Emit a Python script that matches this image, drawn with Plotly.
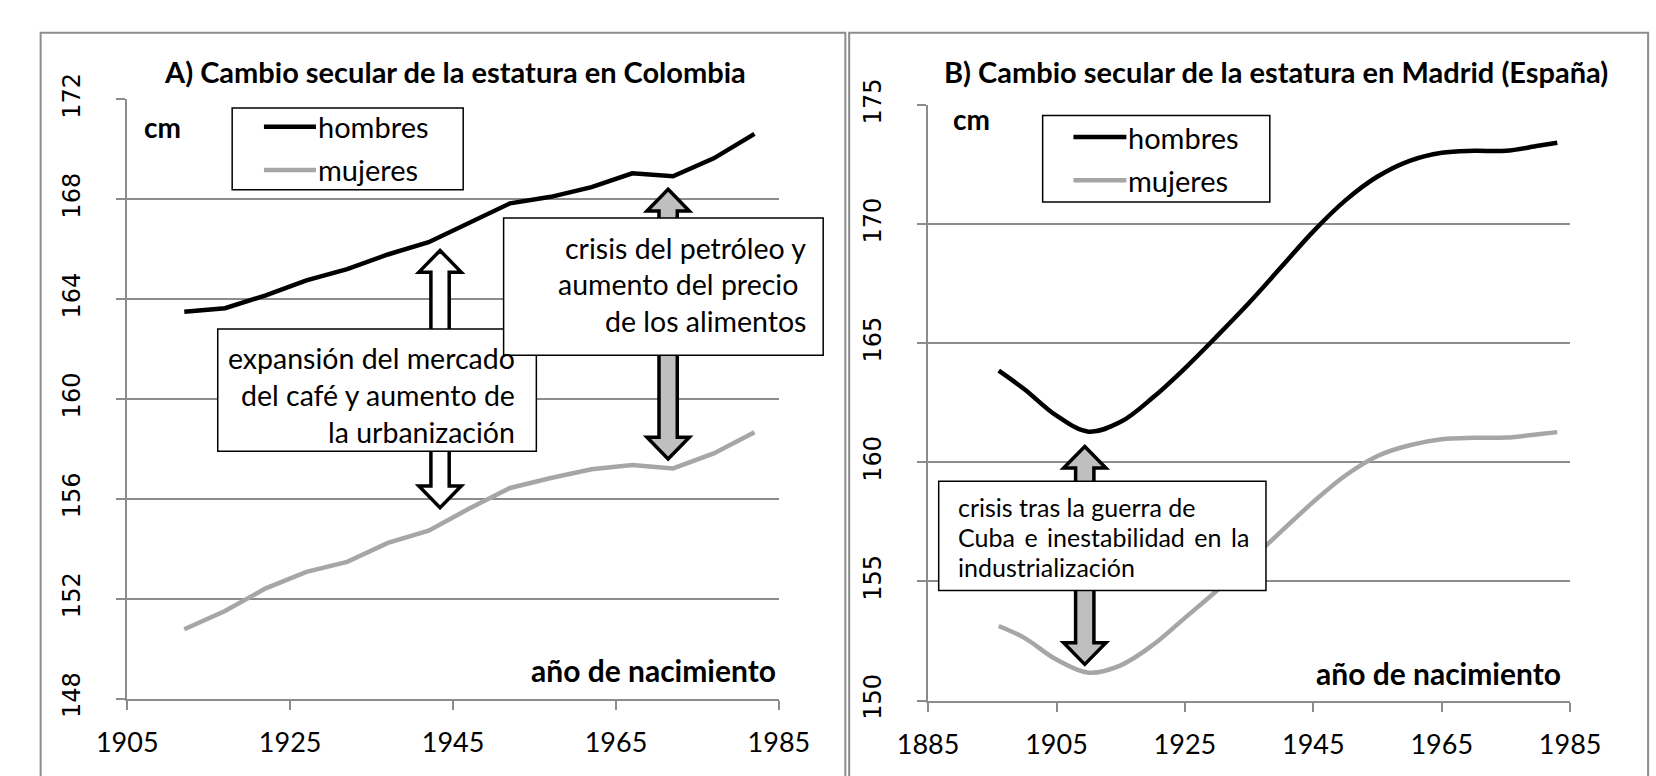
import plotly.graph_objects as go

W, H = 1656, 776

# ---- A) Colombia: estatura media por año de nacimiento (cm)
anios_col = [1912, 1917, 1922, 1927, 1932, 1937, 1942, 1947, 1952, 1957, 1962, 1967, 1972, 1977, 1982]
hombres_col = [163.50, 163.64, 164.15, 164.75, 165.20, 165.79, 166.28, 167.08, 167.84, 168.10,
               168.49, 169.04, 168.92, 169.64, 170.62]
mujeres_col = [150.78, 151.51, 152.42, 153.08, 153.48, 154.24, 154.73, 155.62, 156.44, 156.84,
               157.19, 157.36, 157.22, 157.82, 158.67]

# ---- B) Madrid: estatura media por año de nacimiento (cm)
anios_mad = [1896, 1900, 1905, 1910, 1915, 1920, 1925, 1930, 1935, 1940, 1945, 1950, 1955,
             1960, 1965, 1970, 1975, 1980, 1983]
hombres_mad = [163.85, 163.07, 161.96, 161.29, 161.70, 162.72, 163.95, 165.30, 166.70, 168.20,
               169.70, 171.00, 172.00, 172.66, 173.00, 173.08, 173.08, 173.29, 173.42]
mujeres_mad = [153.13, 152.63, 151.72, 151.17, 151.48, 152.33, 153.47, 154.62, 155.85, 157.10,
               158.34, 159.45, 160.27, 160.72, 160.97, 161.03, 161.04, 161.18, 161.27]

ticks_x_col = [1905, 1925, 1945, 1965, 1985]
ticks_y_col = [148, 152, 156, 160, 164, 168, 172]
ticks_x_mad = [1885, 1905, 1925, 1945, 1965, 1985]
ticks_y_mad = [150, 155, 160, 165, 170, 175]

series_names = ["hombres", "mujeres"]

BLACK = "#000000"
GREY_LINE = "#A6A6A6"
GRID = "#8C8C8C"
ARROW_GREY = "#BFBFBF"
FONT = "Lato"
NUM_FONT = "DejaVu Sans"

# plot areas in pixels: (left, right, top, bottom)
AREA_A = (100, 777, 77, 714)
AREA_B = (932, 1599, 83, 716)
RANGE_A = ((1905, 1985), (148, 172))
RANGE_B = ((1885, 1985), (150, 175))


def px(x):
    return x / W


def py(y):
    return 1 - y / H


def axis_pair(area, rng, xticks, yticks):
    l, r, t, b = area
    common = dict(showline=True, linecolor=GRID, linewidth=2, ticks="outside", ticklen=9,
                  tickwidth=2, tickcolor=GRID, zeroline=False, fixedrange=True)
    xa = dict(common, domain=[px(l), px(r)], range=list(rng[0]), tickvals=xticks,
              showgrid=False, tickfont=dict(family=FONT, size=27, color=BLACK),
              ticklabelstandoff=10)
    ya = dict(common, domain=[py(b), py(t)], range=list(rng[1]), tickvals=yticks,
              showgrid=True, gridcolor=GRID, gridwidth=2, tickangle=-90,
              tickfont=dict(family=NUM_FONT, size=24, color=BLACK), ticklabelstandoff=27)
    return xa, ya


fig = go.Figure()

# ---- data lines
fig.add_trace(go.Scatter(x=anios_col, y=hombres_col, name=series_names[0], mode="lines",
                         line=dict(color=BLACK, width=4.5), xaxis="x", yaxis="y", showlegend=False))
fig.add_trace(go.Scatter(x=anios_col, y=mujeres_col, name=series_names[1], mode="lines",
                         line=dict(color=GREY_LINE, width=4.5), xaxis="x", yaxis="y", showlegend=False))
fig.add_trace(go.Scatter(x=anios_mad, y=hombres_mad, name=series_names[0], mode="lines",
                         line=dict(color=BLACK, width=4.5, shape="spline", smoothing=1.0),
                         xaxis="x2", yaxis="y2", showlegend=False))
fig.add_trace(go.Scatter(x=anios_mad, y=mujeres_mad, name=series_names[1], mode="lines",
                         line=dict(color=GREY_LINE, width=4.5, shape="spline", smoothing=1.0),
                         xaxis="x2", yaxis="y2", showlegend=False))

xa, ya = axis_pair(AREA_A, RANGE_A, ticks_x_col, ticks_y_col)
xb, yb = axis_pair(AREA_B, RANGE_B, ticks_x_mad, ticks_y_mad)
xa["anchor"] = "y"
ya["anchor"] = "x"
xb["anchor"] = "y2"
yb["anchor"] = "x2"

shapes = []
annotations = []

# chart area frames
for x0, x1 in ((10, 846), (850, 1680)):
    shapes.append(dict(type="rect", xref="paper", yref="paper", x0=px(x0), x1=px(x1),
                       y0=py(800), y1=py(6), line=dict(color=GRID, width=2),
                       fillcolor="rgba(0,0,0,0)", layer="below"))


def block_arrow(area, rng, xref, yref, cx, y_top, y_bot, fill):
    """Double-headed block arrow between two heights, sized in pixels."""
    l, r, t, b = area
    kx = (r - l) / (rng[0][1] - rng[0][0])
    ky = (b - t) / (rng[1][1] - rng[1][0])
    hw, sw, hh = 22 / kx, 9.5 / kx, 23 / ky
    pts = [(cx, y_top), (cx + hw, y_top - hh), (cx + sw, y_top - hh), (cx + sw, y_bot + hh),
           (cx + hw, y_bot + hh), (cx, y_bot), (cx - hw, y_bot + hh), (cx - sw, y_bot + hh),
           (cx - sw, y_top - hh), (cx - hw, y_top - hh)]
    path = "M " + " L ".join(f"{x},{y}" for x, y in pts) + " Z"
    return dict(type="path", xref=xref, yref=yref, path=path, fillcolor=fill,
                line=dict(color=BLACK, width=3.5), layer="above")


def box(x0, x1, y0, y1):
    return dict(type="rect", xref="paper", yref="paper", x0=px(x0), x1=px(x1),
                y0=py(y1), y1=py(y0), fillcolor="white", line=dict(color=BLACK, width=1.5),
                layer="above")


def text(x, y, s, size, anchor="left", bold=False):
    return dict(xref="paper", yref="paper", x=px(x), y=py(y), text=f"<b>{s}</b>" if bold else s,
                showarrow=False, xanchor=anchor, yanchor="middle", borderpad=0,
                font=dict(family=FONT, size=size, color=BLACK))


# arrows first, boxes over them
shapes.append(block_arrow(AREA_A, RANGE_A, "x", "y", 1943.4, 165.95, 155.65, "white"))
shapes.append(block_arrow(AREA_A, RANGE_A, "x", "y", 1971.4, 168.40, 157.60, ARROW_GREY))
shapes.append(block_arrow(AREA_B, RANGE_B, "x2", "y2", 1909.4, 160.67, 151.52, ARROW_GREY))

shapes.append(box(194, 525, 321, 451))
shapes.append(box(491, 823, 203, 349))
shapes.append(box(943, 1283, 483, 599))

# legend frames and keys
for (lx0, lx1, ly0, ly1), (kx0, kx1), (k1, k2) in (
        ((209, 449, 86, 173), (242, 296), (106, 152)),
        ((1051, 1287, 94, 186), (1083, 1138), (117, 163))):
    shapes.append(box(lx0, lx1, ly0, ly1))
    shapes.append(dict(type="line", xref="paper", yref="paper", x0=px(kx0), x1=px(kx1),
                       y0=py(k1), y1=py(k1), line=dict(color=BLACK, width=4.5), layer="above"))
    shapes.append(dict(type="line", xref="paper", yref="paper", x0=px(kx0), x1=px(kx1),
                       y0=py(k2), y1=py(k2), line=dict(color=GREY_LINE, width=4.5), layer="above"))
    annotations.append(text(kx1 + 1, k1, series_names[0], 29))
    annotations.append(text(kx1 + 1, k2, series_names[1], 29))

# titles and axis captions
annotations.append(text(440, 47, "A) Cambio secular de la estatura en Colombia", 29, "center", True))
annotations.append(text(1293, 47, "B) Cambio secular de la estatura en Madrid (España)", 29, "center", True))
annotations.append(text(116, 106, "cm", 28, "left", True))
annotations.append(text(957, 98, "cm", 28, "left", True))
annotations.append(text(775, 683, "año de nacimiento", 30, "right", True))
annotations.append(text(1591, 687, "año de nacimiento", 30, "right", True))

# box texts
for y, s in zip((352, 391, 430), ("expansión del mercado", "del café y aumento de", "la urbanización")):
    annotations.append(text(504, y, s, 28.5, "right"))
for y, s in zip((235, 273, 312), ("crisis del petróleo y", "aumento del precio\u00a0", "de los alimentos")):
    annotations.append(text(806, y, s, 28.5, "right"))
annotations.append(text(962, 510, "crisis tras la guerra de", 25))
annotations.append(text(962, 542, "Cuba \u2009e \u2009inestabilidad \u2009en \u2009la", 25))
annotations.append(text(962, 574, "industrialización", 25))

fig.update_layout(
    width=W, height=H, margin=dict(l=0, r=0, t=0, b=0),
    paper_bgcolor="white", plot_bgcolor="white",
    xaxis=xa, yaxis=ya, xaxis2=xb, yaxis2=yb,
    shapes=shapes, annotations=annotations,
    showlegend=False,
    font=dict(family=FONT, color=BLACK),
)

fig.write_html("out.html")
